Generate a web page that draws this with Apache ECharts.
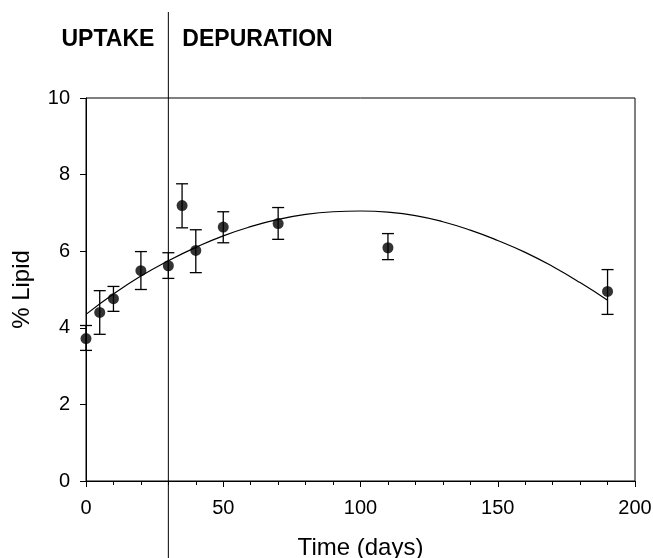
<!DOCTYPE html>
<html>
<head>
<meta charset="utf-8">
<script src="https://cdn.jsdelivr.net/npm/echarts@6/dist/echarts.min.js"></script>
<style>
html,body{margin:0;padding:0;background:#fff;}
#main{width:653px;height:558px;}
</style>
</head>
<body>
<div id="main"></div>
<script>
// measured points (days, % lipid) with error bar ends
var days=[0,5,10,20,30,35,40,50,70,110,190];
var lipid=[3.72,4.40,4.76,5.49,5.62,7.19,6.02,6.63,6.72,6.09,4.95];
var errLow=[3.41,3.83,4.43,5.00,5.29,6.61,5.44,6.22,6.31,5.78,4.35];
var errHigh=[4.06,4.97,5.08,5.99,5.96,7.76,6.56,7.03,7.14,6.46,5.52];

// fitted curve
var fitDays=[0,10,20,30,40,50,60,70,80,90,100,110,120,130,140,150,160,170,180,190];
var fitLipid=[4.35,4.88,5.35,5.75,6.10,6.40,6.64,6.83,6.96,7.03,7.05,7.02,6.93,6.77,6.55,6.28,5.97,5.60,5.18,4.72];

var xTicks=[0,50,100,150,200];
var yTicks=[0,2,4,6,8,10];
var phaseDay=30;

var font='Liberation Sans';

var pointData=[];
for(var i=0;i<days.length;i++){
	pointData.push([days[i],lipid[i]]);
}
var errData=[];
for(var i=0;i<days.length;i++){
	errData.push([days[i],errLow[i],errHigh[i]]);
}
var fitData=[];
for(var i=0;i<fitDays.length;i++){
	fitData.push([fitDays[i],fitLipid[i]]);
}

var myChart=echarts.init(document.getElementById('main'));

var option={
	animation:false,
	backgroundColor:'#fff',
	grid:{
		left:86,right:18,top:98,bottom:77,
		outerBoundsMode:'none',containLabel:false,
		show:true,borderColor:'#000',borderWidth:1,backgroundColor:'transparent'
	},
	xAxis:{
		type:'value',
		min:xTicks[0],max:xTicks[xTicks.length-1],interval:50,
		name:'Time (days)',nameLocation:'middle',nameGap:55,
		nameTextStyle:{fontFamily:font,fontSize:24,color:'#000'},
		axisLine:{lineStyle:{color:'#000',width:1}},
		axisTick:{show:true,inside:false,length:6,lineStyle:{color:'#000'}},
		minorTick:{show:true,splitNumber:5,length:4,lineStyle:{color:'#000'}},
		axisLabel:{fontFamily:font,fontSize:20,color:'#000',margin:17},
		splitLine:{show:false}
	},
	yAxis:{
		type:'value',
		min:yTicks[0],max:yTicks[yTicks.length-1],interval:2,
		name:'% Lipid',nameLocation:'middle',nameGap:52,
		nameTextStyle:{fontFamily:font,fontSize:24,color:'#000'},
		axisLine:{show:true,lineStyle:{color:'#000',width:1}},
		axisTick:{show:true,inside:false,length:6,lineStyle:{color:'#000'}},
		axisLabel:{fontFamily:font,fontSize:20,color:'#000',margin:16},
		splitLine:{show:false}
	},
	series:[{
		type:'line',
		data:fitData,
		smooth:true,
		showSymbol:false,
		lineStyle:{color:'#000',width:1.2},
		z:2
	},{
		type:'custom',
		data:errData,
		renderItem:function(params,api){
			var x=api.value(0);
			var lo=api.coord([x,api.value(1)]);
			var hi=api.coord([x,api.value(2)]);
			var cap=6;
			var st={stroke:'#000',lineWidth:1.3};
			return {type:'group',children:[
				{type:'line',shape:{x1:lo[0],y1:lo[1],x2:hi[0],y2:hi[1]},style:st},
				{type:'line',shape:{x1:lo[0]-cap,y1:lo[1],x2:lo[0]+cap,y2:lo[1]},style:st},
				{type:'line',shape:{x1:hi[0]-cap,y1:hi[1],x2:hi[0]+cap,y2:hi[1]},style:st}
			]};
		},
		z:3
	},{
		type:'scatter',
		data:pointData,
		symbol:'circle',
		symbolSize:11,
		itemStyle:{color:'#000'},
		z:4
	}]
};

myChart.setOption(option);

// phase divider line and labels, placed through the x scale
var px=myChart.convertToPixel({xAxisIndex:0},phaseDay);
myChart.setOption({
	graphic:[{
		type:'line',
		shape:{x1:px,y1:12,x2:px,y2:558},
		style:{stroke:'#000',lineWidth:1},
		z:10
	},{
		type:'text',
		x:px-14,y:40,
		style:{text:'UPTAKE',font:'bold 23px "Liberation Sans"',fill:'#000',textAlign:'right',textVerticalAlign:'middle'}
	},{
		type:'text',
		x:px+14,y:40,
		style:{text:'DEPURATION',font:'bold 23px "Liberation Sans"',fill:'#000',textAlign:'left',textVerticalAlign:'middle'}
	}]
});
</script>
</body>
</html>
